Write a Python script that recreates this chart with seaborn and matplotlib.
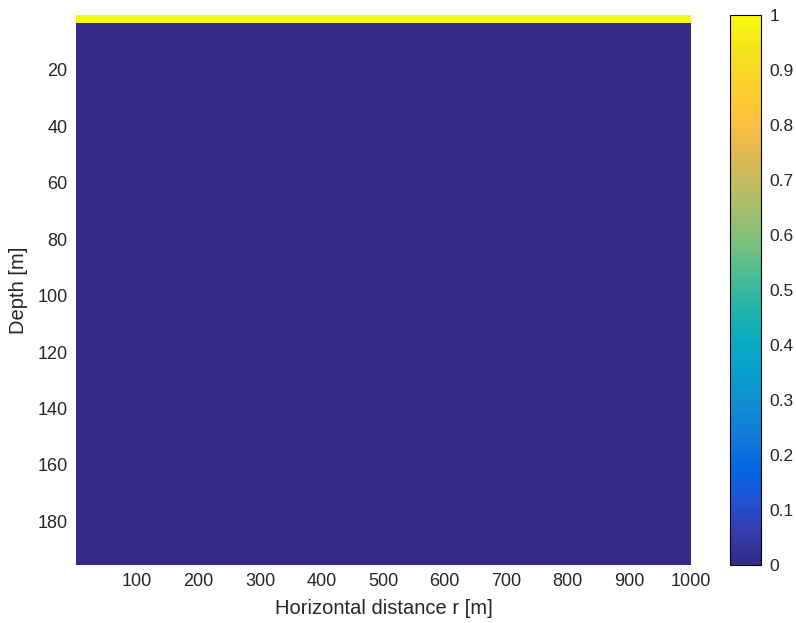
import numpy as np
import pandas as pd
import seaborn as sns
import matplotlib
matplotlib.use("Agg")
import matplotlib.pyplot as plt
from matplotlib.colors import LinearSegmentedColormap

# ---- data ----
depth_m = np.arange(1, 196)          # depth grid [m]
range_m = np.arange(1, 1001)         # horizontal distance grid [m]
band_bottom = [3, 195]               # bottom depth of each band [m]
band_value = [1.0, 0.0]              # field value in each band
x_ticks = [100, 200, 300, 400, 500, 600, 700, 800, 900, 1000]
y_ticks = [20, 40, 60, 80, 100, 120, 140, 160, 180]
cbar_ticks = [0, 0.1, 0.2, 0.3, 0.4, 0.5, 0.6, 0.7, 0.8, 0.9, 1]

# field table
col = np.empty(len(depth_m))
top = 0
for b, v in zip(band_bottom, band_value):
    col[(depth_m > top) & (depth_m <= b)] = v
    top = b
field = pd.DataFrame(np.repeat(col[:, None], len(range_m), axis=1),
                     index=depth_m, columns=range_m)

# MATLAB parula-like colormap
parula_pts = [
    (0.2081, 0.1663, 0.5292), (0.2081, 0.2386, 0.6771), (0.1253, 0.3242, 0.8303),
    (0.0060, 0.4086, 0.8828), (0.0723, 0.4887, 0.8467), (0.0641, 0.5570, 0.8240),
    (0.0239, 0.6287, 0.8038), (0.0384, 0.6743, 0.7436), (0.1453, 0.7098, 0.6646),
    (0.3022, 0.7376, 0.5712), (0.4871, 0.7491, 0.4840), (0.6473, 0.7456, 0.4188),
    (0.7858, 0.7356, 0.3633), (0.9139, 0.7258, 0.3063), (0.9990, 0.7653, 0.2164),
    (0.9789, 0.8271, 0.1633), (0.9589, 0.8949, 0.1132), (0.9763, 0.9831, 0.0538),
]
parula = LinearSegmentedColormap.from_list("parula", parula_pts, N=256)

sns.set_style("white")
plt.rcParams['font.family'] = ['Liberation Sans', 'DejaVu Sans']
txt = (0.15, 0.15, 0.15)

fig = plt.figure(figsize=(7.96, 6.23), dpi=100)
ax = fig.add_axes([76/796, 58/623, 615/796, 550/623])
cax = fig.add_axes([730/796, 58/623, 31/796, 550/623])

sns.heatmap(field, ax=ax, cbar_ax=cax, cmap=parula, vmin=0, vmax=1,
            xticklabels=False, yticklabels=False, linewidths=0, rasterized=True)

ax.set_xticks(np.array(x_ticks) - 0.5)
ax.set_xticklabels([str(t) for t in x_ticks])
ax.set_yticks(np.array(y_ticks) - 0.5)
ax.set_yticklabels([str(t) for t in y_ticks])
ax.tick_params(axis='both', labelsize=13, colors=txt, length=0, pad=6)
ax.tick_params(axis='x', rotation=0)
ax.tick_params(axis='y', rotation=0)
ax.set_xlabel("Horizontal distance r [m]", fontsize=14.5, color=txt, labelpad=6)
ax.set_ylabel("Depth [m]", fontsize=14.5, color=txt, labelpad=7)
for s in ax.spines.values():
    s.set_visible(False)

cb = ax.collections[0].colorbar
cb.set_ticks(cbar_ticks)
cb.set_ticklabels([f"{t:g}" for t in cbar_ticks])
cax.tick_params(axis='y', direction='in', length=4, width=0.8, labelsize=12.5,
                colors=txt, pad=6, right=True, left=False)
cb.outline.set_visible(True)
cb.outline.set_edgecolor('black')
cb.outline.set_linewidth(0.8)

fig.savefig("out.png", dpi=100)
